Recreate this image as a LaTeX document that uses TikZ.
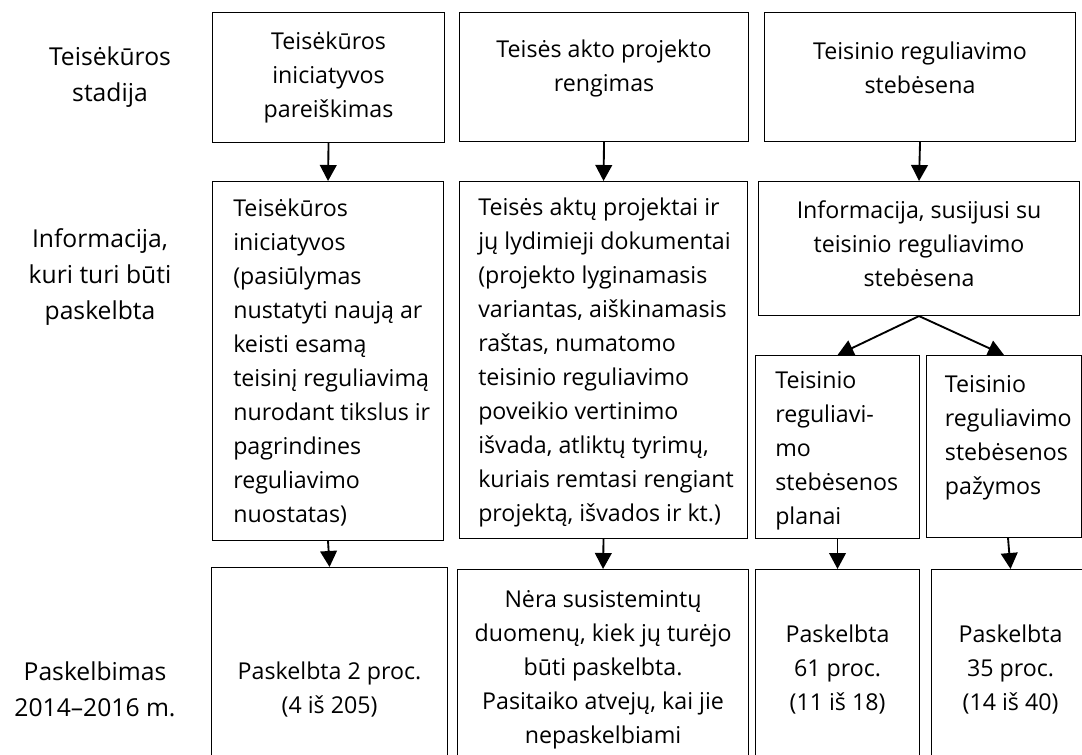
\documentclass[tikz,border=0pt]{standalone}
\usepackage{fontspec}
\setmainfont{Open Sans}
\usepackage{tikz}
\usetikzlibrary{arrows.meta, backgrounds}
\tikzstyle{box} = [draw, line width=0.8pt, fill=white, anchor=north west, inner sep=0pt]
\tikzstyle{txt} = [font=\fontsize{17.4}{25.5}\selectfont, inner sep=0pt, align=center]
\tikzstyle{lbl} = [font=\fontsize{18.5}{27}\selectfont, inner sep=0pt, align=center]
\tikzstyle{arrow} = [line width=1.4pt, -{Triangle[length=12pt,width=12.5pt]}]

\begin{document}
\begin{tikzpicture}[x=0.75pt, y=-0.75pt]
	\useasboundingbox (0,0) rectangle (1082,754);
	% row labels
	\node[lbl] (lab1) at (110,77.5) {Teisėkūros\\stadija};
	\node[lbl] (lab2) at (100,277) {Informacija,\\kuri turi būti\\paskelbta};
	\node[lbl] (lab3) at (95,689) {Paskelbimas\\2014–2016 m.};
	% stages
	\node[box, minimum width=174pt, minimum height=97.5pt] (b11) at (212,12) {};
	\node[box, minimum width=216.75pt, minimum height=96.75pt] (b12) at (459,12) {};
	\node[box, minimum width=233.25pt, minimum height=96.75pt] (b13) at (764,12) {};
	\node[txt] (t11) at (b11.center) {Teisėkūros\\iniciatyvos\\pareiškimas};
	\node[txt] (t12) at ([yshift=6.75pt]b12.center) {Teisės akto projekto\\rengimas};
	\node[txt] (t13) at ([yshift=6.75pt]b13.center) {Teisinio reguliavimo\\stebėsena};
	% information
	\node[box, minimum width=173.25pt, minimum height=269.25pt] (b21) at (212,181) {};
	\node[box, minimum width=216pt, minimum height=267.75pt] (b22) at (459,181) {};
	\node[box, minimum width=240.75pt, minimum height=100.5pt] (b23) at (758,181) {};
	\node[box, minimum width=123pt, minimum height=137.25pt] (s1) at (755,355) {};
	\node[box, minimum width=116.25pt, minimum height=136.5pt] (s2) at (926,355) {};
	\node[txt, align=left, anchor=west] (t21) at ([xshift=15.75pt, yshift=-1pt]b21.west)
		{Teisėkūros\\iniciatyvos\\(pasiūlymas\\nustatyti naują ar\\keisti esamą\\teisinį reguliavimą\\nurodant tikslus ir\\pagrindines\\reguliavimo\\nuostatas)};
	\node[txt, align=left, anchor=west] (t22) at ([xshift=14.25pt, yshift=-2pt]b22.west)
		{Teisės aktų projektai ir\\jų lydimieji dokumentai\\(projekto lyginamasis\\variantas, aiškinamasis\\raštas, numatomo\\teisinio reguliavimo\\poveikio vertinimo\\išvada, atliktų tyrimų,\\kuriais remtasi rengiant\\projektą, išvados ir kt.)};
	\node[txt] (t23) at ([yshift=3.75pt]b23.center) {Informacija, susijusi su\\teisinio reguliavimo\\stebėsena};
	\node[txt, align=left, anchor=west] (ts1) at ([xshift=15pt, yshift=-2.6pt]s1.west)
		{Teisinio\\reguliavi-\\mo\\stebėsenos\\planai};
	\node[txt, align=left, anchor=west] (ts2) at ([xshift=14pt, yshift=6.75pt]s2.west)
		{Teisinio\\reguliavimo\\stebėsenos\\pažymos};
	% publication
	\node[box, minimum width=177pt, minimum height=150pt] (b31) at (211,567) {};
	\node[box, minimum width=218.25pt, minimum height=150pt] (b32) at (457,569) {};
	\node[box, minimum width=123pt, minimum height=150pt] (b33) at (755,569) {};
	\node[box, minimum width=118.5pt, minimum height=150pt] (b34) at (931,569) {};
	\node[txt] (t31) at ([yshift=-92pt]b31.north) {Paskelbta 2 proc.\\(4 iš 205)};
	\node[txt] (t32) at ([yshift=-75.75pt]b32.north) {Nėra susistemintų\\duomenų, kiek jų turėjo\\būti paskelbta.\\Pasitaiko atvejų, kai jie\\nepaskelbiami};
	\node[txt] (t33) at ([yshift=-75.75pt]b33.north) {Paskelbta\\61 proc.\\(11 iš 18)};
	\node[txt] (t34) at ([yshift=-75.75pt]b34.north) {Paskelbta\\35 proc.\\(14 iš 40)};
	% arrows
	\draw[arrow] (b11.south) -- (b21.north);
	\draw[arrow] (b12.south) -- (b22.north);
	\draw[arrow] (b13.south) -- (b23.north);
	\begin{scope}[on background layer]
		\fill[white] (0,0) rectangle (1082,754);
		\draw[arrow] (b23.south) -- (s1.north);
		\draw[arrow] (b23.south) -- (s2.north);
	\end{scope}
	\draw[arrow] (b21.south) -- (b31.north);
	\draw[arrow] (b22.south) -- (b32.north);
	\draw[arrow] (s1.south) -- (b33.north);
	\draw[arrow] ([xshift=3pt]s2.south) -- (b34.north);
\end{tikzpicture}
\end{document}
